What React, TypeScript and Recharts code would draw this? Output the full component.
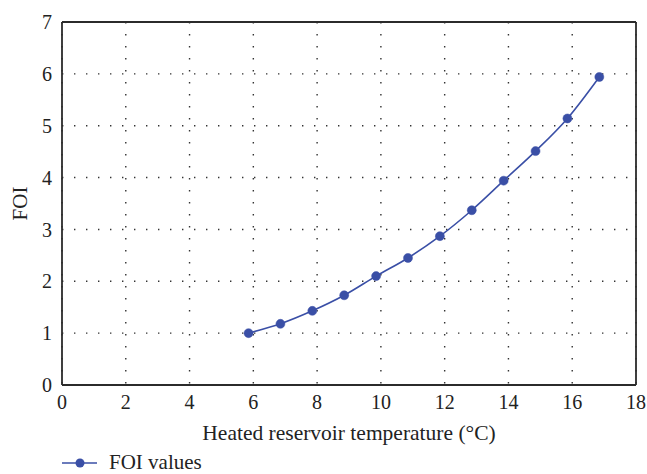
import {
  CartesianGrid,
  Legend,
  Line,
  LineChart,
  ReferenceLine,
  XAxis,
  YAxis,
} from "recharts";

const temperatures = [5.85, 6.85, 7.85, 8.85, 9.85, 10.85, 11.85, 12.85, 13.85, 14.85, 15.85, 16.85];
const foiValues = [1.0, 1.18, 1.43, 1.73, 2.1, 2.45, 2.87, 3.37, 3.94, 4.51, 5.14, 5.94];
const xTicks = [0, 2, 4, 6, 8, 10, 12, 14, 16, 18];
const yTicks = [0, 1, 2, 3, 4, 5, 6, 7];

const data = temperatures.map((t, i) => ({ t, foi: foiValues[i] }));

const FONT = "'Liberation Serif', 'Times New Roman', 'DejaVu Serif', serif";
const BLUE = "#3a4fa6";
const INK = "#2b2b2b";
const TEXT = "#222";

function LegendBox() {
  return (
    <div style={{ display: "flex", alignItems: "center", height: 22, fontFamily: FONT, fontSize: 21, lineHeight: "22px", color: TEXT }}>
      <svg width={36} height={22} style={{ marginRight: 11 }}>
        <line x1={0} y1={12} x2={35} y2={12} stroke={BLUE} strokeWidth={1.6} />
        <circle cx={18} cy={12} r={4.5} fill={BLUE} />
      </svg>
      <span>FOI values</span>
    </div>
  );
}

function FoiLabel(props: any) {
  const vb = props.viewBox || { x: 0, y: 0, width: 0, height: 0 };
  const cx = vb.x + 12;
  const cy = vb.y + vb.height / 2;
  return (
    <text
      x={cx}
      y={cy}
      transform={`rotate(-90, ${cx}, ${cy})`}
      textAnchor="middle"
      dominantBaseline="central"
      fill={TEXT}
      fontSize={21}
      fontFamily={FONT}
    >
      FOI
    </text>
  );
}

export default function App() {
  return (
    <div style={{ width: 647, height: 474, overflow: "hidden" }}>
      <style>{"body{margin:0;overflow:hidden}"}</style>
      <LineChart width={647} height={474} data={data} margin={{ top: 22, right: 11, bottom: 0, left: 8 }}>
        <CartesianGrid stroke="#333" strokeWidth={1.4} strokeDasharray="1.4 10.6" />
        <XAxis
          type="number"
          dataKey="t"
          domain={[0, 18]}
          ticks={xTicks}
          tickLine={false}
          axisLine={{ stroke: INK, strokeWidth: 1.8 }}
          tick={{ fill: TEXT, fontSize: 20, fontFamily: FONT }}
          tickMargin={4}
          height={67}
          label={{ value: "Heated reservoir temperature (°C)", position: "insideBottom", offset: 12, fill: TEXT, fontSize: 21.5, fontFamily: FONT }}
        />
        <YAxis
          type="number"
          domain={[0, 7]}
          ticks={yTicks}
          tickLine={false}
          axisLine={{ stroke: INK, strokeWidth: 1.8 }}
          tick={{ fill: TEXT, fontSize: 20, fontFamily: FONT }}
          tickMargin={4}
          width={54}
          label={<FoiLabel />}
        />
        <ReferenceLine y={7} stroke={INK} strokeWidth={1.8} />
        <ReferenceLine x={18} stroke={INK} strokeWidth={1.8} />
        <Line
          dataKey="foi"
          type="monotone"
          stroke={BLUE}
          strokeWidth={1.6}
          dot={{ r: 4.5, fill: BLUE, stroke: BLUE, strokeWidth: 0.5 }}
          isAnimationActive={false}
        />
        <Legend
          verticalAlign="bottom"
          align="left"
          content={<LegendBox />}
          wrapperStyle={{ left: 62, bottom: 1, height: 22 }}
        />
      </LineChart>
    </div>
  );
}
